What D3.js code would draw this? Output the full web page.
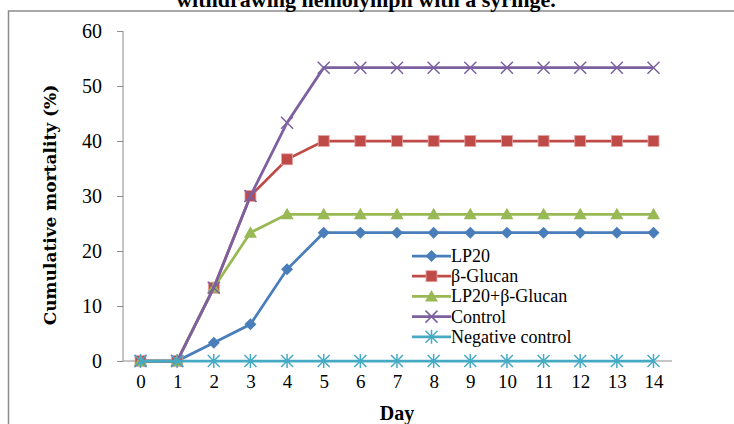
<!DOCTYPE html>
<html>
<head>
<meta charset="utf-8">
<script src="https://cdn.jsdelivr.net/npm/d3@7"></script>
<style>
  body { margin: 0; background: #fff; }
  svg { display: block; }
</style>
</head>
<body>
<div id="viz"></div>
<script>
var width = 734;
var height = 424;
var serif = "'Liberation Serif', 'Times New Roman', serif";

var days = [0, 1, 2, 3, 4, 5, 6, 7, 8, 9, 10, 11, 12, 13, 14];
var yTicks = [0, 10, 20, 30, 40, 50, 60];

var lp20 = [0, 0, 3.33, 6.67, 16.67, 23.33, 23.33, 23.33, 23.33, 23.33, 23.33, 23.33, 23.33, 23.33, 23.33];
var glucan = [0, 0, 13.33, 30, 36.67, 40, 40, 40, 40, 40, 40, 40, 40, 40, 40];
var lp20Glucan = [0, 0, 13.33, 23.33, 26.67, 26.67, 26.67, 26.67, 26.67, 26.67, 26.67, 26.67, 26.67, 26.67, 26.67];
var control = [0, 0, 13.33, 30, 43.33, 53.33, 53.33, 53.33, 53.33, 53.33, 53.33, 53.33, 53.33, 53.33, 53.33];
var negControl = [0, 0, 0, 0, 0, 0, 0, 0, 0, 0, 0, 0, 0, 0, 0];

var seriesNames = ["LP20", "\u03b2-Glucan", "LP20+\u03b2-Glucan", "Control", "Negative control"];
var seriesValues = [lp20, glucan, lp20Glucan, control, negControl];
var seriesColors = ["#4a7ebb", "#be4b48", "#98b954", "#7d60a0", "#46aac5"];
var seriesMarkers = ["diamond", "square", "triangle", "x", "star"];

var svg = d3.select("#viz")
    .append("svg")
    .attr("width", width)
    .attr("height", height);

// outer frame (runs past the window on right and bottom)
svg.append("rect")
    .attr("x", 8.5).attr("y", 11)
    .attr("width", 740).attr("height", 430)
    .attr("fill", "none")
    .attr("stroke", "#8c8c8c")
    .attr("stroke-width", 1.5);

// title, mostly clipped at top
svg.append("text")
    .attr("x", 366).attr("y", 7)
    .attr("text-anchor", "middle")
    .style("font-family", serif)
    .style("font-weight", "bold")
    .style("font-size", "22px")
    .text("withdrawing hemolymph with a syringe.");

var x = d3.scaleLinear().domain([0, 14]).range([140.5, 653.5]);
var y = d3.scaleLinear().domain([0, 60]).range([361, 31]);

// y axis
var yAxis = svg.append("g")
    .attr("transform", "translate(123,0)")
    .call(d3.axisLeft(y).tickValues(yTicks).tickSize(6).tickPadding(15));
yAxis.attr("font-family", serif);
yAxis.selectAll("line, path").attr("stroke", "#8c8c8c");
yAxis.select(".domain").attr("d", "M0," + y(60) + "V" + y(0));
yAxis.selectAll("text")
    .style("font-family", serif)
    .style("font-size", "20px")
    .attr("fill", "#000");

// x axis
var xAxis = svg.append("g")
    .attr("transform", "translate(0," + y(0) + ")")
    .call(d3.axisBottom(x).tickValues(days).tickSize(0).tickPadding(14).tickFormat(d3.format("d")));
xAxis.attr("font-family", serif);
xAxis.select(".domain").attr("d", "M123,0H672").attr("stroke", "#8c8c8c");
xAxis.selectAll("text")
    .style("font-family", serif)
    .style("font-size", "19px")
    .attr("fill", "#000");

svg.append("text")
    .attr("transform", "translate(56,205) rotate(-90)")
    .attr("text-anchor", "middle")
    .style("font-family", "'DejaVu Serif', serif")
    .style("font-weight", "bold")
    .style("font-size", "17px")
    .text("Cumulative mortality (%)");

svg.append("text")
    .attr("x", 397).attr("y", 420)
    .attr("text-anchor", "middle")
    .style("font-family", serif)
    .style("font-weight", "bold")
    .style("font-size", "20px")
    .text("Day");

function drawMarker(g, type, color) {
  if (type === "diamond") {
    g.append("path").attr("d", "M0,-6L6,0L0,6L-6,0Z").attr("fill", color);
  } else if (type === "square") {
    g.append("rect").attr("x", -5.5).attr("y", -5.5).attr("width", 11).attr("height", 11)
        .attr("fill", color).attr("stroke", "#e6a6a4").attr("stroke-width", 0.8);
  } else if (type === "triangle") {
    g.append("path").attr("d", "M0,-6.5L6.5,5L-6.5,5Z").attr("fill", color);
  } else if (type === "x") {
    g.append("path").attr("d", "M-6,-6L6,6M-6,6L6,-6").attr("stroke", color).attr("stroke-width", 1.5);
  } else {
    g.append("path").attr("d", "M-6,-6L6,6M-6,6L6,-6M0,-7V7").attr("stroke", color).attr("stroke-width", 1.5);
  }
}

var line = d3.line()
    .x(function(d, i) { return x(days[i]); })
    .y(function(d) { return y(d); });

seriesValues.forEach(function(vals, s) {
  svg.append("path")
      .datum(vals)
      .attr("d", line)
      .attr("fill", "none")
      .attr("stroke", seriesColors[s])
      .attr("stroke-width", 2.75);
  vals.forEach(function(v, i) {
    var g = svg.append("g").attr("transform", "translate(" + x(days[i]) + "," + y(v) + ")");
    drawMarker(g, seriesMarkers[s], seriesColors[s]);
  });
});

// legend
var legend = svg.selectAll("g.legend")
    .data(seriesNames)
    .enter()
    .append("g")
    .attr("class", "legend")
    .attr("transform", function(d, i) { return "translate(412," + (256 + i * 20.2) + ")"; });

legend.append("line")
    .attr("x1", 0).attr("x2", 39)
    .attr("stroke", function(d, i) { return seriesColors[i]; })
    .attr("stroke-width", 2.75);

legend.each(function(d, i) {
  var g = d3.select(this).append("g").attr("transform", "translate(19.5,0)");
  drawMarker(g, seriesMarkers[i], seriesColors[i]);
});

legend.append("text")
    .attr("x", 39).attr("y", 6)
    .style("font-family", serif)
    .style("font-size", "18px")
    .text(function(d) { return d; });
</script>
</body>
</html>
